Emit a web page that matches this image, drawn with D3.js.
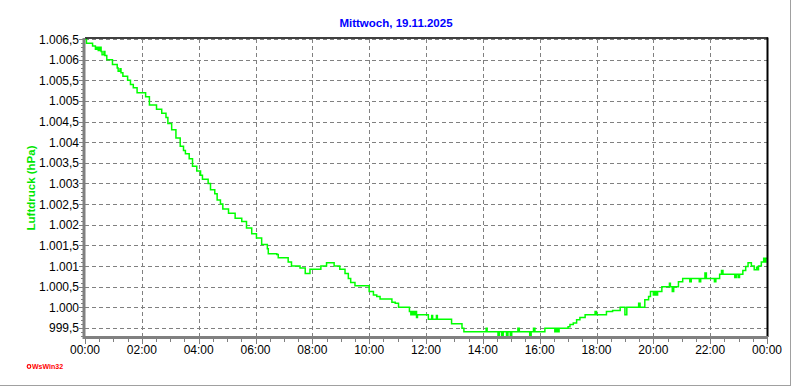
<!DOCTYPE html>
<html>
<head>
<meta charset="utf-8">
<script src="https://cdn.jsdelivr.net/npm/d3@7"></script>
<style>
  body { margin: 0; background: #fff; }
  svg { display: block; font-family: "Liberation Sans", Arial, sans-serif; }
  .grid line { stroke: #808080; stroke-width: 1; stroke-dasharray: 4,3; }
  .tick-label { font-size: 12px; fill: #000; }
</style>
</head>
<body>
<script>
// Luftdruck, Mittwoch 19.11.2025 - step line as logged by WsWin32

var title = "Mittwoch, 19.11.2025";
var yTitle = "Luftdruck (hPa)";

// readings: time of change, pressure (hPa)
var times = [
  "00:00","00:03","00:16","00:22","00:25","00:28","00:31","00:34","00:36","00:40",
  "00:42","00:46","00:58","01:08","01:10","01:14","01:16","01:20","01:30","01:36",
  "01:42","01:50","02:08","02:16","02:31","02:42","02:51","02:55","03:03","03:12",
  "03:21","03:28","03:32","03:40","03:47","03:56","04:04","04:08","04:20","04:25",
  "04:34","04:39","04:46","04:51","05:03","05:17","05:31","05:41","05:52","06:02",
  "06:13","06:25","06:27","06:45","06:48","06:55","07:09","07:16","07:34","07:45",
  "07:55","08:18","08:30","08:46","08:58","09:09","09:16","09:21","09:30","10:00",
  "10:09","10:16","10:23","10:48","10:55","11:02","11:25","11:28","11:31","11:34",
  "11:37","11:40","11:42","12:05","12:12","12:14","12:22","12:24","12:54","13:16",
  "13:20","14:07","14:09","14:32","14:35","14:40","14:43","14:50","14:53","14:58",
  "15:01","15:14","15:17","15:39","15:42","15:47","15:50","16:11","16:32","16:35",
  "16:38","16:41","17:00","17:04","17:11","17:18","17:25","17:36","17:57","18:00",
  "18:21","18:34","18:50","19:00","19:04","19:29","19:32","19:42","19:50","19:54",
  "20:00","20:03","20:06","20:09","20:18","20:34","20:36","20:40","20:43","20:53",
  "21:02","21:17","21:20","21:37","21:40","21:49","21:52","22:09","22:12","22:20",
  "22:24","22:27","22:52","22:55","22:59","23:02","23:09","23:15","23:20","23:27",
  "23:33","23:38","23:40","23:42","23:48","23:53","23:56","23:58"
];
var pressure = [
  1006.5,1006.4,1006.33,1006.25,1006.3,1006.22,1006.3,1006.2,1006.12,1006.2,
  1006.1,1006.0,1005.88,1005.8,1005.72,1005.78,1005.68,1005.6,1005.5,1005.4,
  1005.32,1005.2,1005.1,1004.9,1004.8,1004.7,1004.6,1004.45,1004.3,1004.1,
  1003.9,1003.8,1003.72,1003.6,1003.42,1003.3,1003.2,1003.1,1003.0,1002.85,
  1002.75,1002.6,1002.5,1002.38,1002.28,1002.16,1002.08,1001.92,1001.78,1001.68,
  1001.52,1001.42,1001.3,1001.28,1001.2,1001.2,1001.1,1001.0,1000.95,1000.82,
  1000.92,1001.0,1001.08,1001.0,1000.92,1000.82,1000.7,1000.6,1000.52,1000.38,
  1000.3,1000.26,1000.2,1000.12,1000.1,1000.0,999.9,999.82,999.9,999.82,
  999.9,999.75,999.82,999.71,999.8,999.71,999.8,999.71,999.6,999.49,
  999.41,999.49,999.41,999.32,999.41,999.32,999.41,999.32,999.41,999.32,
  999.41,999.49,999.41,999.3,999.41,999.49,999.41,999.49,999.41,999.49,
  999.41,999.49,999.53,999.58,999.62,999.7,999.75,999.82,999.9,999.82,
  999.9,999.92,1000.0,999.82,1000.0,1000.1,1000.0,1000.18,1000.26,1000.38,
  1000.3,1000.38,1000.3,1000.38,1000.5,1000.58,1000.5,1000.38,1000.5,1000.62,
  1000.7,1000.62,1000.7,1000.62,1000.7,1000.83,1000.7,1000.62,1000.7,1000.8,
  1000.89,1000.8,1000.72,1000.8,1000.72,1000.8,1000.89,1000.99,1001.08,1001.0,
  1000.91,1000.97,1000.91,1001.0,1001.1,1001.19,1001.1,1001.19
];

var yTicks = [999.5,1000,1000.5,1001,1001.5,1002,1002.5,1003,1003.5,1004,1004.5,1005,1005.5,1006,1006.5];
var xTickHours = [0,2,4,6,8,10,12,14,16,18,20,22,24];

var W = 792, H = 387;
var pL = 85, pR = 767, pT = 39, pB = 337;

var svg = d3.select("body").append("svg")
    .attr("width", W)
    .attr("height", H);

var day = new Date(2025, 10, 19);
var parseTime = function(s) {
    var p = s.split(":");
    return new Date(2025, 10, 19, +p[0], +p[1]);
};
var dayEnd = d3.timeDay.offset(day, 1);

var x = d3.scaleTime().domain([day, dayEnd]).range([pL, pR]);
var y = d3.scaleLinear().domain([999.28, 1006.5]).range([pB, pT]);

var de = d3.formatLocale({ decimal: ",", thousands: ".", grouping: [3], currency: ["", "€"] });
var fmtY = de.format(",.1~f");
var fmtX = d3.timeFormat("%H:%M");

var data = times.map(function(t, i) { return { t: parseTime(t), v: pressure[i] }; });
data.push({ t: dayEnd, v: pressure[pressure.length - 1] });

function px(v) { return Math.round(v) + 0.5; }
function hourX(hh) { return px(x(d3.timeHour.offset(day, hh))); }

// grid
var grid = svg.append("g").attr("class", "grid");
grid.selectAll("line.h")
    .data(yTicks)
    .enter().append("line")
    .attr("x1", pL).attr("x2", pR)
    .attr("y1", function(d) { return px(y(d)); })
    .attr("y2", function(d) { return px(y(d)); });
grid.selectAll("line.v")
    .data(xTickHours.slice(1, -1))
    .enter().append("line")
    .attr("y1", pT).attr("y2", pB)
    .attr("x1", hourX)
    .attr("x2", hourX);

// pressure line
var line = d3.line()
    .x(function(d) { return x(d.t); })
    .y(function(d) { return y(d.v); })
    .curve(d3.curveStepAfter);

svg.append("path")
    .datum(data)
    .attr("fill", "none")
    .attr("stroke", "#00ff00")
    .attr("stroke-width", 1.5)
    .attr("d", line);

// frame top / right
svg.append("line")
    .attr("x1", pL).attr("x2", pR + 1)
    .attr("y1", pT - 1).attr("y2", pT - 1)
    .attr("stroke", "#000").attr("stroke-width", 1.5);
svg.append("line")
    .attr("x1", pR + 0.5).attr("x2", pR + 0.5)
    .attr("y1", pT - 1.5).attr("y2", pB)
    .attr("stroke", "#000").attr("stroke-width", 2);

// left axis
var yAxis = svg.append("g");
yAxis.append("line")
    .attr("x1", pL - 1).attr("x2", pL - 1)
    .attr("y1", pT - 1).attr("y2", pB + 2)
    .attr("stroke", "#808080").attr("stroke-width", 3);
yAxis.selectAll("line.minor")
    .data(d3.range(0, 73).map(function(i) { return 999.3 + i * 0.1; }))
    .enter().append("line")
    .attr("x1", pL - 4).attr("x2", pL - 2)
    .attr("y1", function(d) { return px(y(d)); })
    .attr("y2", function(d) { return px(y(d)); })
    .attr("stroke", "#808080");
yAxis.selectAll("line.major")
    .data(yTicks)
    .enter().append("line")
    .attr("x1", pL - 6).attr("x2", pL - 2)
    .attr("y1", function(d) { return px(y(d)); })
    .attr("y2", function(d) { return px(y(d)); })
    .attr("stroke", "#808080");
yAxis.selectAll("text")
    .data(yTicks)
    .enter().append("text")
    .attr("class", "tick-label")
    .attr("x", pL - 6)
    .attr("y", function(d) { return y(d) + 4.5; })
    .attr("text-anchor", "end")
    .text(function(d) { return fmtY(d); });

// bottom axis
var xAxis = svg.append("g");
xAxis.append("line")
    .attr("x1", pL - 2).attr("x2", pR + 1)
    .attr("y1", pB + 0.5).attr("y2", pB + 0.5)
    .attr("stroke", "#808080").attr("stroke-width", 3);
xAxis.selectAll("line.minor")
    .data(d3.timeMinute.every(30).range(day, d3.timeMinute.offset(dayEnd, 1)))
    .enter().append("line")
    .attr("x1", function(d) { return px(x(d)); })
    .attr("x2", function(d) { return px(x(d)); })
    .attr("y1", pB + 2).attr("y2", pB + 5)
    .attr("stroke", "#808080");
xAxis.selectAll("line.major")
    .data(xTickHours)
    .enter().append("line")
    .attr("x1", hourX)
    .attr("x2", hourX)
    .attr("y1", pB + 2).attr("y2", pB + 7)
    .attr("stroke", "#808080");
xAxis.selectAll("text")
    .data(xTickHours)
    .enter().append("text")
    .attr("class", "tick-label")
    .attr("x", function(d) { return x(d3.timeHour.offset(day, d)); })
    .attr("y", 354)
    .attr("text-anchor", "middle")
    .text(function(d) { return fmtX(d3.timeHour.offset(day, d)); });

// titles
svg.append("text")
    .attr("x", W / 2)
    .attr("y", 27)
    .attr("text-anchor", "middle")
    .attr("font-size", "11.5px")
    .attr("font-weight", "bold")
    .attr("fill", "#0000ff")
    .text(title);

svg.append("text")
    .attr("transform", "translate(35,188) rotate(-90)")
    .attr("text-anchor", "middle")
    .attr("font-size", "11.5px")
    .attr("font-weight", "bold")
    .attr("fill", "#00e600")
    .text(yTitle);

// WsWin32 mark
svg.append("circle")
    .attr("cx", 29).attr("cy", 366.5).attr("r", 1.8)
    .attr("fill", "none").attr("stroke", "#ff0000").attr("stroke-width", 1.2);
svg.append("text")
    .attr("x", 32).attr("y", 369)
    .attr("font-size", "7px")
    .attr("font-weight", "bold")
    .attr("fill", "#ff0000")
    .text("WsWin32");

// window edge
svg.append("line")
    .attr("x1", 0).attr("x2", 791).attr("y1", 385.5).attr("y2", 385.5)
    .attr("stroke", "#a0a0a0");
svg.append("line")
    .attr("x1", 790.5).attr("x2", 790.5).attr("y1", 0).attr("y2", 386)
    .attr("stroke", "#a0a0a0");
</script>
</body>
</html>
